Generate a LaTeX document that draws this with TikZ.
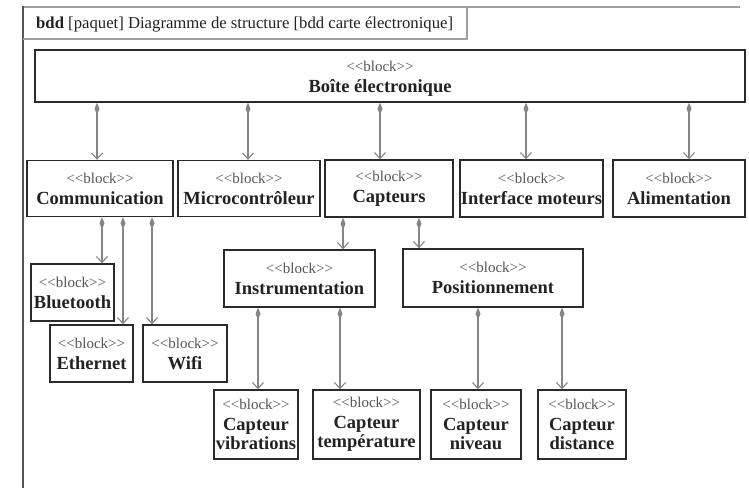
\documentclass[tikz,border=0pt]{standalone}
\usepackage{fontspec}
\setmainfont{Liberation Serif}
\usetikzlibrary{arrows.meta}
\definecolor{framec}{HTML}{555555}
\definecolor{hdrc}{HTML}{A0A0A0}
\definecolor{boxc}{HTML}{2A2A2A}
\definecolor{connc}{HTML}{858585}
\definecolor{stc}{HTML}{555555}
\definecolor{namec}{HTML}{222222}
\newcommand\blk{{\mdseries\color{stc}\fontsize{15}{21}\selectfont <\kern0pt<block>\kern0pt>}}
\tikzset{
  blockbox/.style={draw=boxc, line width=1.4pt, rectangle, inner sep=0pt, align=center,
    font=\fontsize{18.5}{21}\selectfont\bfseries, text=namec},
  conn/.style={draw=connc, line width=1.1pt,
    {Diamond[length=12pt,width=5pt,fill=connc]}-{Straight Barb[length=6pt,width=11pt]}},
}
\begin{document}
\begin{tikzpicture}[x=1pt,y=-1pt]
\useasboundingbox (0,0) rectangle (749,488);
% frame
\draw[hdrc, line width=1.2pt] (740,7) -- (23,7);
\draw[framec, line width=1.4pt] (23,6.4) -- (23,488);
\draw[hdrc, line width=1.2pt] (23,39) -- (467,39) -- (467,7);
\node[anchor=base west, inner sep=0pt, font=\fontsize{16.7}{20}\selectfont, text=namec] (hdr) at (36,28)
  {\textbf{bdd} [paquet] Diagramme de structure [bdd carte électronique]};
% top block
\node[blockbox, minimum width=710pt, minimum height=52pt] (boite) at (390,76) {};
\node[inner sep=0pt, align=center, font=\fontsize{18.5}{21}\selectfont\bfseries, text=namec] (boitetxt) at (380,79) {\blk\\Boîte électronique};
% level 1
\node[blockbox, minimum width=146pt, minimum height=56pt] (comm) at (100,188.5) {\blk\\Communication};
\node[blockbox, minimum width=142pt, minimum height=56pt] (micro) at (249,188.5) {\blk\\Microcontrôleur};
\node[blockbox, minimum width=128pt, minimum height=57pt] (capt) at (389,188.5) {\blk\\Capteurs};
\node[blockbox, minimum width=143pt, minimum height=57pt] (interf) at (531.5,188.5) {\blk\\Interface moteurs};
\node[blockbox, minimum width=132pt, minimum height=57pt] (alim) at (679,188.5) {\blk\\Alimentation};
% level 2
\node[blockbox, minimum width=83pt, minimum height=57pt] (bt) at (72.5,292.5) {\blk\\Bluetooth};
\node[blockbox, minimum width=83pt, minimum height=57pt] (eth) at (91.5,353.5) {\blk\\Ethernet};
\node[blockbox, minimum width=84pt, minimum height=57pt] (wifi) at (185,353.5) {\blk\\Wifi};
\node[blockbox, minimum width=151pt, minimum height=57pt] (instr) at (299.5,278.5) {\blk\\Instrumentation};
\node[blockbox, minimum width=180pt, minimum height=58pt] (posit) at (493,278) {\blk\\Positionnement};
% level 3
\node[blockbox, minimum width=84pt, minimum height=69pt] (vib) at (256,424.5) {\blk\\Capteur\\[-2pt]vibrations};
\node[blockbox, minimum width=107pt, minimum height=69pt] (temp) at (366.5,424.5) {\blk\\Capteur\\[-2pt]température};
\node[blockbox, minimum width=90pt, minimum height=69pt] (niv) at (476,424.5) {\blk\\Capteur\\[-2pt]niveau};
\node[blockbox, minimum width=88pt, minimum height=69pt] (dist) at (582,424.5) {\blk\\Capteur\\[-2pt]distance};
% connector x positions
\coordinate (x1) at (97,0);
\coordinate (x2) at (248,0);
\coordinate (x3) at (380,0);
\coordinate (x4) at (526,0);
\coordinate (x5) at (689,0);
\coordinate (x6) at (102,0);
\coordinate (x7) at (123,0);
\coordinate (x8) at (152,0);
\coordinate (x9) at (343,0);
\coordinate (x10) at (419,0);
\coordinate (x11) at (258,0);
\coordinate (x12) at (340,0);
\coordinate (x13) at (478,0);
\coordinate (x14) at (562,0);
% connectors
\draw[conn] (x1 |- boite.south) -- (x1 |- comm.north);
\draw[conn] (x2 |- boite.south) -- (x2 |- micro.north);
\draw[conn] (x3 |- boite.south) -- (x3 |- capt.north);
\draw[conn] (x4 |- boite.south) -- (x4 |- interf.north);
\draw[conn] (x5 |- boite.south) -- (x5 |- alim.north);
\draw[conn] (x6 |- comm.south) -- (x6 |- bt.north);
\draw[conn] (x7 |- comm.south) -- (x7 |- eth.north);
\draw[conn] (x8 |- comm.south) -- (x8 |- wifi.north);
\draw[conn] (x9 |- capt.south) -- (x9 |- instr.north);
\draw[conn] (x10 |- capt.south) -- (x10 |- posit.north);
\draw[conn] (x11 |- instr.south) -- (x11 |- vib.north);
\draw[conn] (x12 |- instr.south) -- (x12 |- temp.north);
\draw[conn] (x13 |- posit.south) -- (x13 |- niv.north);
\draw[conn] (x14 |- posit.south) -- (x14 |- dist.north);
\end{tikzpicture}
\end{document}
